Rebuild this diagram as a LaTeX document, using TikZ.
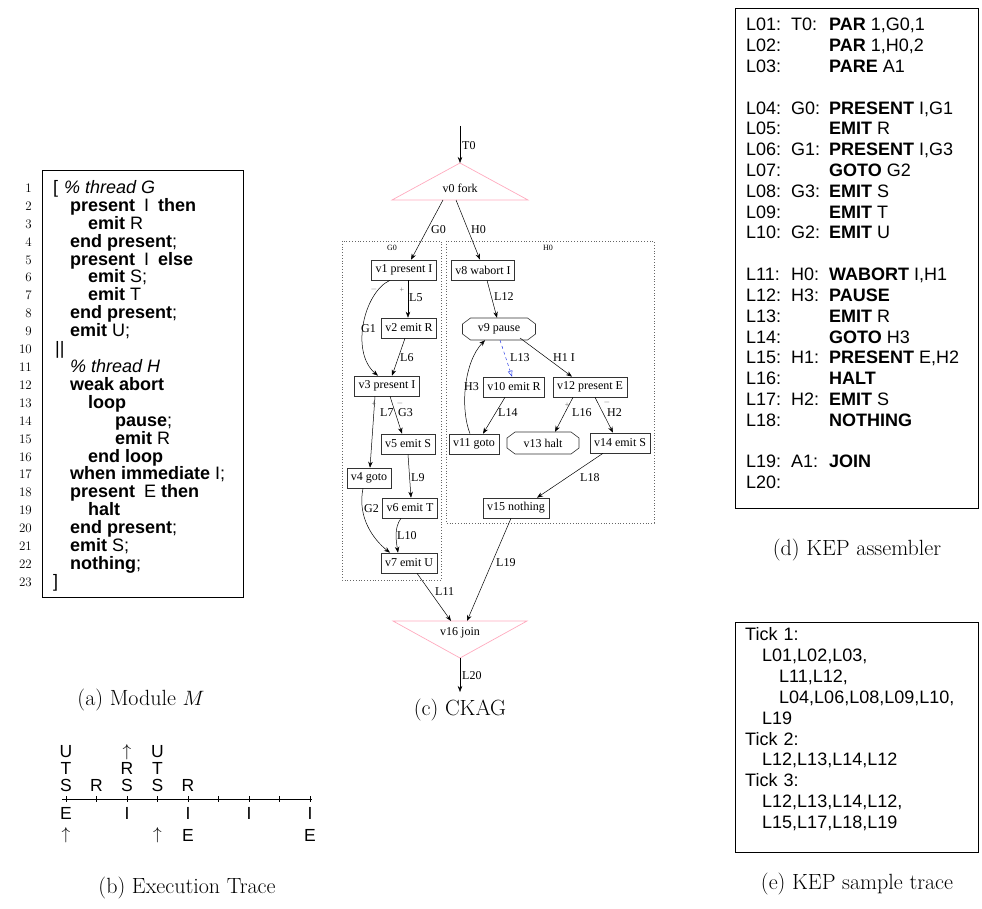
\documentclass[tikz,border=0pt]{standalone}
\usepackage{fontspec}
\newfontfamily\gvfont{Liberation Serif}
\newfontfamily\hv{Liberation Sans}
\usetikzlibrary{arrows.meta,calc}
\definecolor{forkpink}{RGB}{255,170,190}
\definecolor{l13blue}{RGB}{40,60,230}
\newcommand{\asmline}[3]{\makebox[45pt][l]{#1}\makebox[38pt][l]{#2}#3}
\newcommand{\octo}[3]{\draw[gvline] ([shift={(-#2+8,-#3)}]#1.center) -- ([shift={(#2-8,-#3)}]#1.center) -- ([shift={(#2,-#3+6)}]#1.center) -- ([shift={(#2,#3-6)}]#1.center) -- ([shift={(#2-8,#3)}]#1.center) -- ([shift={(-#2+8,#3)}]#1.center) -- ([shift={(-#2,#3-6)}]#1.center) -- ([shift={(-#2,-#3+6)}]#1.center) -- cycle;}
\tikzset{
 lnum/.style={anchor=base east, font=\fontsize{13}{15}\selectfont, inner sep=0pt},
 code/.style={anchor=base west, font=\hv\fontsize{18}{20}\selectfont, inner sep=0pt},
 captext/.style={font=\fontsize{22}{26}\selectfont, inner sep=0pt},
 trl/.style={anchor=center, font=\hv\fontsize{17.5}{20}\selectfont, inner sep=0pt},
 asm/.style={anchor=base west, font=\hv\fontsize{18}{20}\selectfont, inner sep=0pt},
 gvline/.style={line width=0.6pt, draw=black!80},
 gv/.style={gvline, draw, font=\gvfont\fontsize{12}{14}\selectfont, inner xsep=4pt, inner ysep=0pt, minimum height=20pt},
 gvo/.style={font=\gvfont\fontsize{12}{14}\selectfont, inner sep=0pt, minimum height=22pt},
 gvlab/.style={anchor=west, font=\gvfont\fontsize{12}{14}\selectfont, inner sep=0pt},
 gvsmall/.style={font=\gvfont\fontsize{8}{9}\selectfont, inner sep=0pt, text=black!60},
 gvedge/.style={-{Stealth[length=6pt,width=4.5pt]}, line width=0.5pt},
 cluster/.style={dotted, black!60, line width=0.8pt},
 boxframe/.style={draw, line width=0.8pt, inner sep=0pt}
}
\begin{document}
\begin{tikzpicture}[x=1pt,y=-1pt]
\useasboundingbox (0,0) rectangle (982,909);

% ---------------- (a) Module M ----------------
\node[boxframe, minimum width=201pt, minimum height=427pt] (mbox) at (142.5,383.5) {};
\foreach \i in {1,...,23} \node[lnum] (n\i) at (32,{192.5+17.9*(\i-1)}) {\i};
\node[code] (c1) at (53,193.5) {[\hspace{6pt}\textit{\% thread G}};
\node[code] (c2) at (70,211.4) {\textbf{present}\hspace{9pt}I\hspace{9pt}\textbf{then}};
\node[code] (c3) at (88,229.3) {\textbf{emit} R};
\node[code] (c4) at (70,247.2) {\textbf{end present};};
\node[code] (c5) at (70,265.1) {\textbf{present}\hspace{9pt}I\hspace{9pt}\textbf{else}};
\node[code] (c6) at (88,283.0) {\textbf{emit} S;};
\node[code] (c7) at (88,300.9) {\textbf{emit} T};
\node[code] (c8) at (70,318.8) {\textbf{end present};};
\node[code] (c9) at (70,336.7) {\textbf{emit} U;};
\node[code] (c10) at (55,354.6) {||};
\node[code] (c11) at (70,372.5) {\textit{\% thread H}};
\node[code] (c12) at (70,390.4) {\textbf{weak abort}};
\node[code] (c13) at (88,408.3) {\textbf{loop}};
\node[code] (c14) at (115,426.2) {\textbf{pause};};
\node[code] (c15) at (115,444.1) {\textbf{emit} R};
\node[code] (c16) at (88,462.0) {\textbf{end loop}};
\node[code] (c17) at (70,479.9) {\textbf{when immediate} I;};
\node[code] (c18) at (70,497.8) {\textbf{present}\hspace{9pt}E\hspace{5pt}\textbf{then}};
\node[code] (c19) at (88,515.7) {\textbf{halt}};
\node[code] (c20) at (70,533.6) {\textbf{end present};};
\node[code] (c21) at (70,551.5) {\textbf{emit} S;};
\node[code] (c22) at (70,569.4) {\textbf{nothing};};
\node[code] (c23) at (53,587.3) {]};
\node[captext] (capa) at (141,700) {(a) Module $M$};

% ---------------- (b) Execution trace ----------------
\draw[line width=0.6pt] (62,799) -- (312,799);
\foreach \k in {0,...,8} \draw[line width=0.6pt] ({66+30.5*\k},796) -- ({66+30.5*\k},802);
\node[trl] (u1) at (66,752) {U};
\node[trl] (t1) at (66,768.5) {T};
\node[trl] (s1) at (66,785) {S};
\node[trl] (r2) at (96.5,785) {R};
\node[trl] (a3) at (127,752) {$\uparrow$};
\node[trl] (r3) at (127,768.5) {R};
\node[trl] (s3) at (127,785) {S};
\node[trl] (u4) at (157.5,752) {U};
\node[trl] (t4) at (157.5,768.5) {T};
\node[trl] (s4) at (157.5,785) {S};
\node[trl] (r5) at (188,785) {R};
\node[trl] (e1) at (66,813) {E};
\node[trl] (i3) at (127,813) {I};
\node[trl] (i5) at (188,813) {I};
\node[trl] (i7) at (249,813) {I};
\node[trl] (i9) at (310,813) {I};
\node[trl] (b1) at (66,835) {$\uparrow$};
\node[trl] (b4) at (157.5,835) {$\uparrow$};
\node[trl] (e5) at (188,835) {E};
\node[trl] (e9) at (310,835) {E};
\node[captext] (capb) at (187,888) {(b) Execution Trace};

% ---------------- (c) CKAG ----------------
\draw[cluster] (342,241) rectangle (441,580);
\draw[cluster] (446,241) rectangle (654,523);
\node[gvsmall, text=black] (cg0) at (392,248) {G0};
\node[gvsmall, text=black] (ch0) at (548,248) {H0};

\coordinate (t0s) at (460,126);
\coordinate (v0apex) at (460,163);
\coordinate (v0bl) at (392,200);
\coordinate (v0br) at (528,200);
\coordinate (v0g) at (443,200);
\coordinate (v0h) at (456,200);
\draw[forkpink, line width=0.7pt] (v0apex) -- (v0br) -- (v0bl) -- cycle;
\node[gvo] (v0) at (460,188) {v0 fork};

\coordinate (v16tl) at (393,621);
\coordinate (v16tr) at (527,621);
\coordinate (v16apex) at (460,658);
\coordinate (v16a) at (451,621);
\coordinate (v16b) at (467,621);
\coordinate (l20e) at (460,692);
\draw[forkpink, line width=0.7pt] (v16tl) -- (v16tr) -- (v16apex) -- cycle;
\node[gvo] (v16) at (460,633) {v16 join};

\node[gv] (v1) at (404,270) {v1 present I};
\node[gv] (v8) at (483,270) {v8 wabort I};
\node[gv] (v2) at (409,328) {v2 emit R};
\node[gvo, minimum width=73pt] (v9) at (499,329) {v9 pause};
\octo{v9}{36.5}{11}
\node[gv] (v3) at (387,386) {v3 present I};
\node[gv] (v10) at (514,387) {v10 emit R};
\node[gv] (v12) at (590,387) {v12 present E};
\node[gv] (v5) at (408,444) {v5 emit S};
\node[gv] (v11) at (474,444) {v11 goto};
\node[gvo, minimum width=72pt] (v13) at (543,443) {v13 halt};
\octo{v13}{36}{11}
\node[gv] (v14) at (620,443) {v14 emit S};
\node[gv] (v4) at (369,478) {v4 goto};
\node[gv] (v6) at (410,508) {v6 emit T};
\node[gv] (v15) at (516,508) {v15 nothing};
\node[gv] (v7) at (409,563) {v7 emit U};

\draw[gvedge] (t0s) -- (v0apex);
\draw[gvedge] (v0g) -- ([xshift=7pt]v1.north);
\draw[gvedge] (v0h) -- ([xshift=-3pt]v8.north);
\draw[gvedge] ([xshift=4pt]v1.south) -- ([xshift=-1pt]v2.north);
\draw[gvedge] ([xshift=-14pt]v1.south) .. controls (364,292) and (350,352) .. ([xshift=-9pt]v3.north);
\draw[gvedge] ([xshift=-4pt]v2.south) -- ([xshift=5pt]v3.north);
\draw[gvedge] ([xshift=4pt]v8.south) -- ([xshift=-2pt]v9.north);
\draw[-{Triangle[open,length=6pt,width=4.5pt]}, l13blue, dashed, line width=0.5pt] ([xshift=1pt]v9.south) -- ([xshift=-2pt]v10.north);
\draw[gvedge] ([shift={(21,9)}]v9.center) -- ([xshift=-18pt]v12.north);
\draw[gvedge] ([xshift=-4pt]v11.north) .. controls (460,408) and (464,362) .. ([xshift=-14pt]v9.south);
\draw[gvedge] ([xshift=-12pt]v3.south) -- ([xshift=1pt]v4.north);
\draw[gvedge] ([xshift=3pt]v3.south) -- ([xshift=-6pt]v5.north);
\draw[gvedge] (v5.south) -- ([xshift=1pt]v6.north);
\draw[gvedge] ([xshift=-6pt]v4.south) .. controls (357,518) and (374,540) .. ([xshift=-19pt]v7.north);
\draw[gvedge] ([xshift=-9pt]v6.south) .. controls (394,528) and (396,540) .. ([xshift=-11pt]v7.north);
\draw[gvedge] ([xshift=-9pt]v10.south) -- ([xshift=9pt]v11.north);
\draw[gvedge] ([xshift=-17pt]v12.south) -- ([xshift=12pt]v13.north);
\draw[gvedge] ([xshift=5pt]v12.south) -- ([xshift=-7pt]v14.north);
\draw[gvedge] ([xshift=-17pt]v14.south) -- ([xshift=21pt]v15.north);
\draw[gvedge] ([xshift=8pt]v7.south) -- (v16a);
\draw[gvedge] ([xshift=-5pt]v15.south) -- (v16b);
\draw[gvedge] (v16apex) -- (l20e);

\node[gvlab] (lt0) at (462,146) {T0};
\node[gvlab] (lg0) at (431,230) {G0};
\node[gvlab] (lh0) at (471,230) {H0};
\node[gvsmall] (m1) at (374,289) {$-$};
\node[gvsmall] (p1) at (402,290) {+};
\node[gvlab] (l5) at (409,298) {L5};
\node[gvlab] (g1) at (361,329) {G1};
\node[gvlab] (l6) at (400,358) {L6};
\node[gvlab] (l12) at (494,297) {L12};
\node[gvlab] (l13) at (510,358) {L13};
\node[gvlab] (h1) at (553,358) {H1 I};
\node[gvlab] (h3) at (464,387) {H3};
\node[gvsmall] (p3) at (374,404) {+};
\node[gvlab] (l7) at (380,413) {L7};
\node[gvsmall] (m3) at (400,403) {$-$};
\node[gvlab] (g3) at (398,413) {G3};
\node[gvlab] (l9) at (411,478) {L9};
\node[gvlab] (g2) at (364,509) {G2};
\node[gvlab] (l10) at (397,536) {L10};
\node[gvlab] (l14) at (498,413) {L14};
\node[gvsmall] (p12) at (567,405) {+};
\node[gvlab] (l16) at (572,413) {L16};
\node[gvsmall] (m12) at (607,402) {$-$};
\node[gvlab] (h2) at (607,413) {H2};
\node[gvlab] (l18) at (580,478) {L18};
\node[gvlab] (l11) at (435,592) {L11};
\node[gvlab] (l19) at (496,563) {L19};
\node[gvlab] (l20) at (462,676) {L20};
\node[captext] (capc) at (460,710) {(c) CKAG};

% ---------------- (d) KEP assembler ----------------
\node[boxframe, minimum width=243pt, minimum height=500pt] (dbox) at (856.5,258) {};
\node[asm] (d1) at (746,{31+20.8*0}) {\asmline{L01:}{T0:}{\textbf{PAR} 1,G0,1}};
\node[asm] (d2) at (746,{31+20.8*1}) {\asmline{L02:}{}{\textbf{PAR} 1,H0,2}};
\node[asm] (d3) at (746,{31+20.8*2}) {\asmline{L03:}{}{\textbf{PARE} A1}};
\node[asm] (d4) at (746,{31+20.8*4}) {\asmline{L04:}{G0:}{\textbf{PRESENT} I,G1}};
\node[asm] (d5) at (746,{31+20.8*5}) {\asmline{L05:}{}{\textbf{EMIT} R}};
\node[asm] (d6) at (746,{31+20.8*6}) {\asmline{L06:}{G1:}{\textbf{PRESENT} I,G3}};
\node[asm] (d7) at (746,{31+20.8*7}) {\asmline{L07:}{}{\textbf{GOTO} G2}};
\node[asm] (d8) at (746,{31+20.8*8}) {\asmline{L08:}{G3:}{\textbf{EMIT} S}};
\node[asm] (d9) at (746,{31+20.8*9}) {\asmline{L09:}{}{\textbf{EMIT} T}};
\node[asm] (d10) at (746,{31+20.8*10}) {\asmline{L10:}{G2:}{\textbf{EMIT} U}};
\node[asm] (d11) at (746,{31+20.8*12}) {\asmline{L11:}{H0:}{\textbf{WABORT} I,H1}};
\node[asm] (d12) at (746,{31+20.8*13}) {\asmline{L12:}{H3:}{\textbf{PAUSE}}};
\node[asm] (d13) at (746,{31+20.8*14}) {\asmline{L13:}{}{\textbf{EMIT} R}};
\node[asm] (d14) at (746,{31+20.8*15}) {\asmline{L14:}{}{\textbf{GOTO} H3}};
\node[asm] (d15) at (746,{31+20.8*16}) {\asmline{L15:}{H1:}{\textbf{PRESENT} E,H2}};
\node[asm] (d16) at (746,{31+20.8*17}) {\asmline{L16:}{}{\textbf{HALT}}};
\node[asm] (d17) at (746,{31+20.8*18}) {\asmline{L17:}{H2:}{\textbf{EMIT} S}};
\node[asm] (d18) at (746,{31+20.8*19}) {\asmline{L18:}{}{\textbf{NOTHING}}};
\node[asm] (d19) at (746,{31+20.8*21}) {\asmline{L19:}{A1:}{\textbf{JOIN}}};
\node[asm] (d20) at (746,{31+20.8*22}) {\asmline{L20:}{}{}};
\node[captext] (capd) at (857,550) {(d) KEP assembler};

% ---------------- (e) KEP sample trace ----------------
\node[boxframe, minimum width=243pt, minimum height=230pt] (ebox) at (856.5,737) {};
\node[asm] (e1) at (745,{640.5+20.9*0}) {Tick\hspace{6pt}1:};
\node[asm] (e2) at (762,{640.5+20.9*1}) {L01,L02,L03,};
\node[asm] (e3) at (779,{640.5+20.9*2}) {L11,L12,};
\node[asm] (e4) at (779,{640.5+20.9*3}) {L04,L06,L08,L09,L10,};
\node[asm] (e5) at (762,{640.5+20.9*4}) {L19};
\node[asm] (e6) at (745,{640.5+20.9*5}) {Tick\hspace{6pt}2:};
\node[asm] (e7) at (762,{640.5+20.9*6}) {L12,L13,L14,L12};
\node[asm] (e8) at (745,{640.5+20.9*7}) {Tick\hspace{6pt}3:};
\node[asm] (e9) at (762,{640.5+20.9*8}) {L12,L13,L14,L12,};
\node[asm] (e10) at (762,{640.5+20.9*9}) {L15,L17,L18,L19};
\node[captext] (cape) at (857,884) {(e) KEP sample trace};
\end{tikzpicture}
\end{document}
